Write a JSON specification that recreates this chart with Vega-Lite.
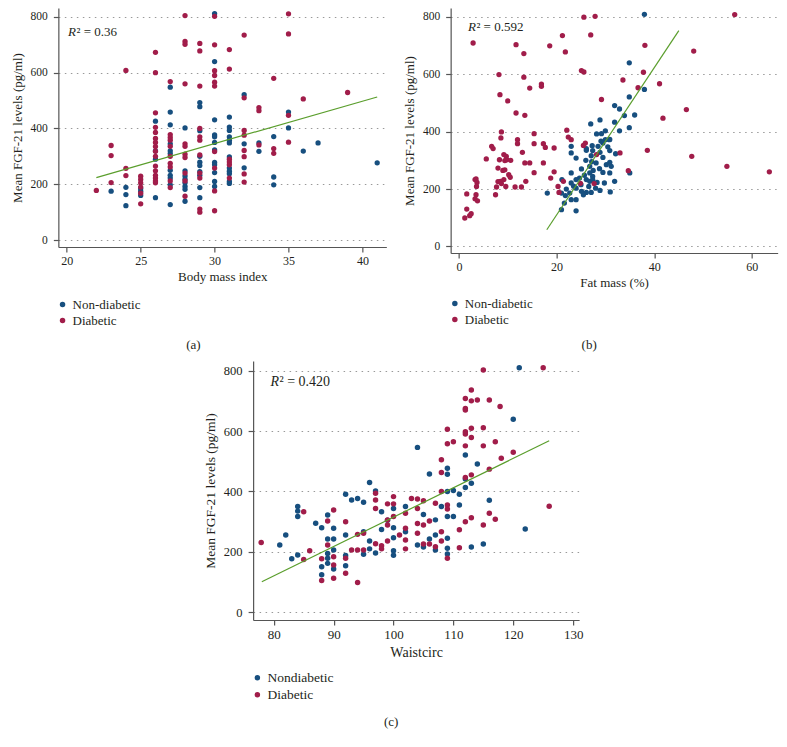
{
  "$schema": "https://vega.github.io/schema/vega-lite/v6.json",
  "background": "white",
  "padding": {"left": 11, "top": 8, "right": 4, "bottom": 5},
  "config": {
    "view": {"stroke": null},
    "font": "Liberation Serif",
    "axis": {"domainColor": "#555", "domainWidth": 1.2, "tickColor": "#555", "tickWidth": 1.2, "tickSize": 5, "labelFont": "Liberation Serif", "titleFont": "Liberation Serif", "labelColor": "#231f20", "titleColor": "#231f20", "titleFontWeight": "normal", "labelFontSize": 12, "titleFontSize": 13, "labelPadding": 3, "titlePadding": 4, "grid": false, "labelFlush": false, "labelOverlap": false},
    "axisY": {"grid": true, "gridColor": "#999", "gridDash": [1.5, 4.5], "gridWidth": 1, "labelPadding": 6, "titlePadding": 6, "labelFontSize": 11.5},
    "legend": {"orient": "none", "title": null, "symbolType": "circle", "symbolSize": 30, "labelFont": "Liberation Serif", "labelFontSize": 13, "labelColor": "#231f20", "rowPadding": 2, "labelOffset": 3.5, "padding": 0},
    "title": {"font": "Liberation Serif", "fontSize": 13, "fontWeight": "normal", "color": "#231f20", "orient": "bottom", "anchor": "middle", "frame": "group"}
  },
  "datasets": {
    "a": [
      {"bmi": 23, "fgf21": 175, "group": "Non-diabetic"},
      {"bmi": 24, "fgf21": 189, "group": "Non-diabetic"}, {"bmi": 24, "fgf21": 163, "group": "Non-diabetic"}, {"bmi": 24, "fgf21": 123, "group": "Non-diabetic"},
      {"bmi": 25, "fgf21": 185, "group": "Non-diabetic"}, {"bmi": 25, "fgf21": 175, "group": "Non-diabetic"}, {"bmi": 25, "fgf21": 160, "group": "Non-diabetic"},
      {"bmi": 26, "fgf21": 426, "group": "Non-diabetic"}, {"bmi": 26, "fgf21": 320, "group": "Non-diabetic"}, {"bmi": 26, "fgf21": 290, "group": "Non-diabetic"}, {"bmi": 26, "fgf21": 152, "group": "Non-diabetic"},
      {"bmi": 27, "fgf21": 548, "group": "Non-diabetic"}, {"bmi": 27, "fgf21": 459, "group": "Non-diabetic"}, {"bmi": 27, "fgf21": 413, "group": "Non-diabetic"}, {"bmi": 27, "fgf21": 345, "group": "Non-diabetic"}, {"bmi": 27, "fgf21": 320, "group": "Non-diabetic"}, {"bmi": 27, "fgf21": 310, "group": "Non-diabetic"}, {"bmi": 27, "fgf21": 250, "group": "Non-diabetic"}, {"bmi": 27, "fgf21": 232, "group": "Non-diabetic"}, {"bmi": 27, "fgf21": 222, "group": "Non-diabetic"}, {"bmi": 27, "fgf21": 198, "group": "Non-diabetic"}, {"bmi": 27, "fgf21": 127, "group": "Non-diabetic"},
      {"bmi": 28, "fgf21": 402, "group": "Non-diabetic"}, {"bmi": 28, "fgf21": 248, "group": "Non-diabetic"}, {"bmi": 28, "fgf21": 230, "group": "Non-diabetic"}, {"bmi": 28, "fgf21": 218, "group": "Non-diabetic"}, {"bmi": 28, "fgf21": 205, "group": "Non-diabetic"}, {"bmi": 28, "fgf21": 192, "group": "Non-diabetic"}, {"bmi": 28, "fgf21": 182, "group": "Non-diabetic"}, {"bmi": 28, "fgf21": 139, "group": "Non-diabetic"},
      {"bmi": 29, "fgf21": 493, "group": "Non-diabetic"}, {"bmi": 29, "fgf21": 478, "group": "Non-diabetic"}, {"bmi": 29, "fgf21": 392, "group": "Non-diabetic"}, {"bmi": 29, "fgf21": 300, "group": "Non-diabetic"}, {"bmi": 29, "fgf21": 279, "group": "Non-diabetic"}, {"bmi": 29, "fgf21": 267, "group": "Non-diabetic"}, {"bmi": 29, "fgf21": 245, "group": "Non-diabetic"}, {"bmi": 29, "fgf21": 232, "group": "Non-diabetic"}, {"bmi": 29, "fgf21": 188, "group": "Non-diabetic"}, {"bmi": 29, "fgf21": 152, "group": "Non-diabetic"},
      {"bmi": 30, "fgf21": 812, "group": "Non-diabetic"}, {"bmi": 30, "fgf21": 640, "group": "Non-diabetic"}, {"bmi": 30, "fgf21": 431, "group": "Non-diabetic"}, {"bmi": 30, "fgf21": 377, "group": "Non-diabetic"}, {"bmi": 30, "fgf21": 370, "group": "Non-diabetic"}, {"bmi": 30, "fgf21": 350, "group": "Non-diabetic"}, {"bmi": 30, "fgf21": 323, "group": "Non-diabetic"}, {"bmi": 30, "fgf21": 278, "group": "Non-diabetic"}, {"bmi": 30, "fgf21": 270, "group": "Non-diabetic"}, {"bmi": 30, "fgf21": 242, "group": "Non-diabetic"}, {"bmi": 30, "fgf21": 210, "group": "Non-diabetic"}, {"bmi": 30, "fgf21": 192, "group": "Non-diabetic"},
      {"bmi": 31, "fgf21": 441, "group": "Non-diabetic"}, {"bmi": 31, "fgf21": 405, "group": "Non-diabetic"}, {"bmi": 31, "fgf21": 393, "group": "Non-diabetic"}, {"bmi": 31, "fgf21": 370, "group": "Non-diabetic"}, {"bmi": 31, "fgf21": 358, "group": "Non-diabetic"}, {"bmi": 31, "fgf21": 348, "group": "Non-diabetic"}, {"bmi": 31, "fgf21": 298, "group": "Non-diabetic"}, {"bmi": 31, "fgf21": 258, "group": "Non-diabetic"}, {"bmi": 31, "fgf21": 247, "group": "Non-diabetic"}, {"bmi": 31, "fgf21": 238, "group": "Non-diabetic"}, {"bmi": 31, "fgf21": 210, "group": "Non-diabetic"}, {"bmi": 31, "fgf21": 203, "group": "Non-diabetic"},
      {"bmi": 32, "fgf21": 521, "group": "Non-diabetic"}, {"bmi": 32, "fgf21": 345, "group": "Non-diabetic"}, {"bmi": 32, "fgf21": 259, "group": "Non-diabetic"},
      {"bmi": 33, "fgf21": 348, "group": "Non-diabetic"}, {"bmi": 33, "fgf21": 318, "group": "Non-diabetic"},
      {"bmi": 34, "fgf21": 371, "group": "Non-diabetic"}, {"bmi": 34, "fgf21": 226, "group": "Non-diabetic"}, {"bmi": 34, "fgf21": 198, "group": "Non-diabetic"},
      {"bmi": 35, "fgf21": 459, "group": "Non-diabetic"}, {"bmi": 35, "fgf21": 402, "group": "Non-diabetic"},
      {"bmi": 36, "fgf21": 319, "group": "Non-diabetic"},
      {"bmi": 37, "fgf21": 348, "group": "Non-diabetic"},
      {"bmi": 41, "fgf21": 277, "group": "Non-diabetic"},
      {"bmi": 22, "fgf21": 178, "group": "Diabetic"},
      {"bmi": 23, "fgf21": 339, "group": "Diabetic"}, {"bmi": 23, "fgf21": 303, "group": "Diabetic"}, {"bmi": 23, "fgf21": 206, "group": "Diabetic"},
      {"bmi": 24, "fgf21": 608, "group": "Diabetic"}, {"bmi": 24, "fgf21": 257, "group": "Diabetic"}, {"bmi": 24, "fgf21": 231, "group": "Diabetic"},
      {"bmi": 25, "fgf21": 229, "group": "Diabetic"}, {"bmi": 25, "fgf21": 217, "group": "Diabetic"}, {"bmi": 25, "fgf21": 205, "group": "Diabetic"}, {"bmi": 25, "fgf21": 190, "group": "Diabetic"}, {"bmi": 25, "fgf21": 168, "group": "Diabetic"}, {"bmi": 25, "fgf21": 130, "group": "Diabetic"},
      {"bmi": 26, "fgf21": 673, "group": "Diabetic"}, {"bmi": 26, "fgf21": 600, "group": "Diabetic"}, {"bmi": 26, "fgf21": 456, "group": "Diabetic"}, {"bmi": 26, "fgf21": 404, "group": "Diabetic"}, {"bmi": 26, "fgf21": 386, "group": "Diabetic"}, {"bmi": 26, "fgf21": 364, "group": "Diabetic"}, {"bmi": 26, "fgf21": 350, "group": "Diabetic"}, {"bmi": 26, "fgf21": 335, "group": "Diabetic"}, {"bmi": 26, "fgf21": 318, "group": "Diabetic"}, {"bmi": 26, "fgf21": 300, "group": "Diabetic"}, {"bmi": 26, "fgf21": 265, "group": "Diabetic"}, {"bmi": 26, "fgf21": 248, "group": "Diabetic"}, {"bmi": 26, "fgf21": 232, "group": "Diabetic"}, {"bmi": 26, "fgf21": 222, "group": "Diabetic"}, {"bmi": 26, "fgf21": 212, "group": "Diabetic"}, {"bmi": 26, "fgf21": 205, "group": "Diabetic"},
      {"bmi": 27, "fgf21": 568, "group": "Diabetic"}, {"bmi": 27, "fgf21": 378, "group": "Diabetic"}, {"bmi": 27, "fgf21": 368, "group": "Diabetic"}, {"bmi": 27, "fgf21": 358, "group": "Diabetic"}, {"bmi": 27, "fgf21": 336, "group": "Diabetic"}, {"bmi": 27, "fgf21": 300, "group": "Diabetic"}, {"bmi": 27, "fgf21": 275, "group": "Diabetic"}, {"bmi": 27, "fgf21": 262, "group": "Diabetic"}, {"bmi": 27, "fgf21": 212, "group": "Diabetic"}, {"bmi": 27, "fgf21": 188, "group": "Diabetic"},
      {"bmi": 28, "fgf21": 805, "group": "Diabetic"}, {"bmi": 28, "fgf21": 712, "group": "Diabetic"}, {"bmi": 28, "fgf21": 702, "group": "Diabetic"}, {"bmi": 28, "fgf21": 560, "group": "Diabetic"}, {"bmi": 28, "fgf21": 345, "group": "Diabetic"}, {"bmi": 28, "fgf21": 336, "group": "Diabetic"}, {"bmi": 28, "fgf21": 308, "group": "Diabetic"}, {"bmi": 28, "fgf21": 296, "group": "Diabetic"}, {"bmi": 28, "fgf21": 240, "group": "Diabetic"}, {"bmi": 28, "fgf21": 212, "group": "Diabetic"}, {"bmi": 28, "fgf21": 157, "group": "Diabetic"},
      {"bmi": 29, "fgf21": 705, "group": "Diabetic"}, {"bmi": 29, "fgf21": 678, "group": "Diabetic"}, {"bmi": 29, "fgf21": 552, "group": "Diabetic"}, {"bmi": 29, "fgf21": 400, "group": "Diabetic"}, {"bmi": 29, "fgf21": 370, "group": "Diabetic"}, {"bmi": 29, "fgf21": 358, "group": "Diabetic"}, {"bmi": 29, "fgf21": 305, "group": "Diabetic"}, {"bmi": 29, "fgf21": 240, "group": "Diabetic"}, {"bmi": 29, "fgf21": 222, "group": "Diabetic"}, {"bmi": 29, "fgf21": 111, "group": "Diabetic"}, {"bmi": 29, "fgf21": 100, "group": "Diabetic"},
      {"bmi": 30, "fgf21": 802, "group": "Diabetic"}, {"bmi": 30, "fgf21": 700, "group": "Diabetic"}, {"bmi": 30, "fgf21": 607, "group": "Diabetic"}, {"bmi": 30, "fgf21": 590, "group": "Diabetic"}, {"bmi": 30, "fgf21": 566, "group": "Diabetic"}, {"bmi": 30, "fgf21": 552, "group": "Diabetic"}, {"bmi": 30, "fgf21": 317, "group": "Diabetic"}, {"bmi": 30, "fgf21": 258, "group": "Diabetic"}, {"bmi": 30, "fgf21": 176, "group": "Diabetic"}, {"bmi": 30, "fgf21": 105, "group": "Diabetic"},
      {"bmi": 31, "fgf21": 683, "group": "Diabetic"}, {"bmi": 31, "fgf21": 613, "group": "Diabetic"}, {"bmi": 31, "fgf21": 290, "group": "Diabetic"}, {"bmi": 31, "fgf21": 280, "group": "Diabetic"}, {"bmi": 31, "fgf21": 270, "group": "Diabetic"}, {"bmi": 31, "fgf21": 222, "group": "Diabetic"},
      {"bmi": 32, "fgf21": 735, "group": "Diabetic"}, {"bmi": 32, "fgf21": 510, "group": "Diabetic"}, {"bmi": 32, "fgf21": 393, "group": "Diabetic"}, {"bmi": 32, "fgf21": 376, "group": "Diabetic"}, {"bmi": 32, "fgf21": 321, "group": "Diabetic"}, {"bmi": 32, "fgf21": 299, "group": "Diabetic"}, {"bmi": 32, "fgf21": 237, "group": "Diabetic"}, {"bmi": 32, "fgf21": 208, "group": "Diabetic"},
      {"bmi": 33, "fgf21": 475, "group": "Diabetic"}, {"bmi": 33, "fgf21": 464, "group": "Diabetic"}, {"bmi": 33, "fgf21": 341, "group": "Diabetic"},
      {"bmi": 34, "fgf21": 580, "group": "Diabetic"}, {"bmi": 34, "fgf21": 328, "group": "Diabetic"}, {"bmi": 34, "fgf21": 311, "group": "Diabetic"},
      {"bmi": 35, "fgf21": 811, "group": "Diabetic"}, {"bmi": 35, "fgf21": 739, "group": "Diabetic"}, {"bmi": 35, "fgf21": 447, "group": "Diabetic"}, {"bmi": 35, "fgf21": 351, "group": "Diabetic"},
      {"bmi": 36, "fgf21": 506, "group": "Diabetic"},
      {"bmi": 39, "fgf21": 529, "group": "Diabetic"}
    ],
    "b": [
      {"fat": 38.0, "fgf21": 809, "group": "Non-diabetic"}, {"fat": 34.9, "fgf21": 640, "group": "Non-diabetic"}, {"fat": 34.9, "fgf21": 521, "group": "Non-diabetic"}, {"fat": 38.0, "fgf21": 547, "group": "Non-diabetic"}, {"fat": 36.0, "fgf21": 458, "group": "Non-diabetic"}, {"fat": 34.9, "fgf21": 414, "group": "Non-diabetic"}, {"fat": 35.0, "fgf21": 256, "group": "Non-diabetic"}, {"fat": 31.9, "fgf21": 491, "group": "Non-diabetic"}, {"fat": 32.9, "fgf21": 479, "group": "Non-diabetic"}, {"fat": 33.9, "fgf21": 456, "group": "Non-diabetic"}, {"fat": 31.9, "fgf21": 433, "group": "Non-diabetic"}, {"fat": 32.9, "fgf21": 403, "group": "Non-diabetic"}, {"fat": 28.9, "fgf21": 441, "group": "Non-diabetic"}, {"fat": 27.0, "fgf21": 427, "group": "Non-diabetic"}, {"fat": 29.2, "fgf21": 393, "group": "Non-diabetic"}, {"fat": 28.2, "fgf21": 392, "group": "Non-diabetic"}, {"fat": 30.0, "fgf21": 403, "group": "Non-diabetic"}, {"fat": 30.8, "fgf21": 372, "group": "Non-diabetic"}, {"fat": 30.0, "fgf21": 372, "group": "Non-diabetic"}, {"fat": 29.5, "fgf21": 360, "group": "Non-diabetic"}, {"fat": 27.3, "fgf21": 351, "group": "Non-diabetic"}, {"fat": 28.5, "fgf21": 349, "group": "Non-diabetic"}, {"fat": 30.5, "fgf21": 347, "group": "Non-diabetic"}, {"fat": 26.1, "fgf21": 341, "group": "Non-diabetic"}, {"fat": 27.4, "fgf21": 334, "group": "Non-diabetic"}, {"fat": 23.0, "fgf21": 349, "group": "Non-diabetic"}, {"fat": 23.0, "fgf21": 326, "group": "Non-diabetic"}, {"fat": 24.0, "fgf21": 308, "group": "Non-diabetic"}, {"fat": 25.1, "fgf21": 270, "group": "Non-diabetic"}, {"fat": 27.1, "fgf21": 316, "group": "Non-diabetic"}, {"fat": 28.9, "fgf21": 328, "group": "Non-diabetic"}, {"fat": 30.9, "fgf21": 334, "group": "Non-diabetic"}, {"fat": 32.1, "fgf21": 323, "group": "Non-diabetic"}, {"fat": 28.1, "fgf21": 291, "group": "Non-diabetic"}, {"fat": 30.2, "fgf21": 285, "group": "Non-diabetic"}, {"fat": 30.9, "fgf21": 293, "group": "Non-diabetic"}, {"fat": 26.8, "fgf21": 279, "group": "Non-diabetic"}, {"fat": 28.8, "fgf21": 271, "group": "Non-diabetic"}, {"fat": 31.2, "fgf21": 279, "group": "Non-diabetic"}, {"fat": 29.5, "fgf21": 258, "group": "Non-diabetic"}, {"fat": 30.9, "fgf21": 256, "group": "Non-diabetic"}, {"fat": 26.8, "fgf21": 256, "group": "Non-diabetic"}, {"fat": 27.4, "fgf21": 244, "group": "Non-diabetic"}, {"fat": 25.7, "fgf21": 248, "group": "Non-diabetic"}, {"fat": 26.1, "fgf21": 233, "group": "Non-diabetic"}, {"fat": 24.7, "fgf21": 238, "group": "Non-diabetic"}, {"fat": 23.0, "fgf21": 221, "group": "Non-diabetic"}, {"fat": 24.0, "fgf21": 233, "group": "Non-diabetic"}, {"fat": 26.8, "fgf21": 227, "group": "Non-diabetic"}, {"fat": 27.4, "fgf21": 233, "group": "Non-diabetic"}, {"fat": 28.3, "fgf21": 223, "group": "Non-diabetic"}, {"fat": 29.8, "fgf21": 221, "group": "Non-diabetic"}, {"fat": 31.9, "fgf21": 227, "group": "Non-diabetic"}, {"fat": 26.6, "fgf21": 209, "group": "Non-diabetic"}, {"fat": 28.0, "fgf21": 203, "group": "Non-diabetic"}, {"fat": 28.9, "fgf21": 195, "group": "Non-diabetic"}, {"fat": 31.0, "fgf21": 190, "group": "Non-diabetic"}, {"fat": 24.0, "fgf21": 203, "group": "Non-diabetic"}, {"fat": 25.1, "fgf21": 192, "group": "Non-diabetic"}, {"fat": 26.1, "fgf21": 188, "group": "Non-diabetic"}, {"fat": 27.1, "fgf21": 188, "group": "Non-diabetic"}, {"fat": 22.0, "fgf21": 200, "group": "Non-diabetic"}, {"fat": 22.7, "fgf21": 186, "group": "Non-diabetic"}, {"fat": 21.0, "fgf21": 186, "group": "Non-diabetic"}, {"fat": 21.8, "fgf21": 177, "group": "Non-diabetic"}, {"fat": 23.0, "fgf21": 163, "group": "Non-diabetic"}, {"fat": 24.0, "fgf21": 163, "group": "Non-diabetic"}, {"fat": 21.6, "fgf21": 151, "group": "Non-diabetic"}, {"fat": 21.0, "fgf21": 128, "group": "Non-diabetic"}, {"fat": 24.0, "fgf21": 124, "group": "Non-diabetic"}, {"fat": 18.1, "fgf21": 186, "group": "Non-diabetic"}, {"fat": 21.1, "fgf21": 233, "group": "Non-diabetic"}, {"fat": 23.0, "fgf21": 256, "group": "Non-diabetic"}, {"fat": 26.1, "fgf21": 335, "group": "Non-diabetic"}, {"fat": 30.9, "fgf21": 373, "group": "Non-diabetic"}, {"fat": 29.1, "fgf21": 367, "group": "Non-diabetic"}, {"fat": 27.2, "fgf21": 295, "group": "Non-diabetic"}, {"fat": 26.0, "fgf21": 300, "group": "Non-diabetic"}, {"fat": 29.5, "fgf21": 310, "group": "Non-diabetic"}, {"fat": 27.5, "fgf21": 265, "group": "Non-diabetic"}, {"fat": 25.0, "fgf21": 215, "group": "Non-diabetic"}, {"fat": 23.5, "fgf21": 210, "group": "Non-diabetic"}, {"fat": 25.5, "fgf21": 180, "group": "Non-diabetic"},
      {"fat": 2.9, "fgf21": 709, "group": "Diabetic"}, {"fat": 11.7, "fgf21": 703, "group": "Diabetic"}, {"fat": 13.3, "fgf21": 672, "group": "Diabetic"}, {"fat": 18.6, "fgf21": 699, "group": "Diabetic"}, {"fat": 21.2, "fgf21": 735, "group": "Diabetic"}, {"fat": 21.8, "fgf21": 678, "group": "Diabetic"}, {"fat": 25.6, "fgf21": 799, "group": "Diabetic"}, {"fat": 27.9, "fgf21": 802, "group": "Diabetic"}, {"fat": 27.0, "fgf21": 737, "group": "Diabetic"}, {"fat": 25.1, "fgf21": 613, "group": "Diabetic"}, {"fat": 25.6, "fgf21": 608, "group": "Diabetic"}, {"fat": 8.2, "fgf21": 599, "group": "Diabetic"}, {"fat": 13.3, "fgf21": 590, "group": "Diabetic"}, {"fat": 14.5, "fgf21": 552, "group": "Diabetic"}, {"fat": 16.9, "fgf21": 566, "group": "Diabetic"}, {"fat": 16.9, "fgf21": 558, "group": "Diabetic"}, {"fat": 8.4, "fgf21": 529, "group": "Diabetic"}, {"fat": 10.0, "fgf21": 507, "group": "Diabetic"}, {"fat": 11.7, "fgf21": 465, "group": "Diabetic"}, {"fat": 13.5, "fgf21": 457, "group": "Diabetic"}, {"fat": 29.2, "fgf21": 512, "group": "Diabetic"}, {"fat": 33.6, "fgf21": 580, "group": "Diabetic"}, {"fat": 38.1, "fgf21": 701, "group": "Diabetic"}, {"fat": 37.8, "fgf21": 607, "group": "Diabetic"}, {"fat": 36.7, "fgf21": 553, "group": "Diabetic"}, {"fat": 41.1, "fgf21": 567, "group": "Diabetic"}, {"fat": 41.8, "fgf21": 447, "group": "Diabetic"}, {"fat": 46.6, "fgf21": 477, "group": "Diabetic"}, {"fat": 48.1, "fgf21": 681, "group": "Diabetic"}, {"fat": 56.5, "fgf21": 808, "group": "Diabetic"}, {"fat": 47.7, "fgf21": 314, "group": "Diabetic"}, {"fat": 54.9, "fgf21": 279, "group": "Diabetic"}, {"fat": 63.6, "fgf21": 260, "group": "Diabetic"}, {"fat": 38.6, "fgf21": 335, "group": "Diabetic"}, {"fat": 33.0, "fgf21": 326, "group": "Diabetic"}, {"fat": 34.7, "fgf21": 264, "group": "Diabetic"}, {"fat": 28.2, "fgf21": 320, "group": "Diabetic"}, {"fat": 27.7, "fgf21": 219, "group": "Diabetic"}, {"fat": 24.9, "fgf21": 220, "group": "Diabetic"}, {"fat": 22.1, "fgf21": 405, "group": "Diabetic"}, {"fat": 22.4, "fgf21": 381, "group": "Diabetic"}, {"fat": 23.0, "fgf21": 372, "group": "Diabetic"}, {"fat": 25.9, "fgf21": 360, "group": "Diabetic"}, {"fat": 25.5, "fgf21": 352, "group": "Diabetic"}, {"fat": 17.3, "fgf21": 358, "group": "Diabetic"}, {"fat": 17.7, "fgf21": 345, "group": "Diabetic"}, {"fat": 19.5, "fgf21": 343, "group": "Diabetic"}, {"fat": 15.4, "fgf21": 393, "group": "Diabetic"}, {"fat": 15.4, "fgf21": 358, "group": "Diabetic"}, {"fat": 17.3, "fgf21": 291, "group": "Diabetic"}, {"fat": 19.5, "fgf21": 260, "group": "Diabetic"}, {"fat": 18.8, "fgf21": 238, "group": "Diabetic"}, {"fat": 15.4, "fgf21": 257, "group": "Diabetic"}, {"fat": 20.3, "fgf21": 209, "group": "Diabetic"}, {"fat": 20.5, "fgf21": 188, "group": "Diabetic"}, {"fat": 21.4, "fgf21": 227, "group": "Diabetic"}, {"fat": 8.7, "fgf21": 399, "group": "Diabetic"}, {"fat": 8.6, "fgf21": 378, "group": "Diabetic"}, {"fat": 6.7, "fgf21": 349, "group": "Diabetic"}, {"fat": 7.0, "fgf21": 341, "group": "Diabetic"}, {"fat": 5.6, "fgf21": 305, "group": "Diabetic"}, {"fat": 3.5, "fgf21": 235, "group": "Diabetic"}, {"fat": 3.3, "fgf21": 233, "group": "Diabetic"}, {"fat": 3.7, "fgf21": 223, "group": "Diabetic"}, {"fat": 3.6, "fgf21": 209, "group": "Diabetic"}, {"fat": 3.5, "fgf21": 180, "group": "Diabetic"}, {"fat": 3.3, "fgf21": 166, "group": "Diabetic"}, {"fat": 3.8, "fgf21": 159, "group": "Diabetic"}, {"fat": 1.6, "fgf21": 183, "group": "Diabetic"}, {"fat": 1.6, "fgf21": 130, "group": "Diabetic"}, {"fat": 1.2, "fgf21": 99, "group": "Diabetic"}, {"fat": 2.2, "fgf21": 107, "group": "Diabetic"}, {"fat": 2.5, "fgf21": 114, "group": "Diabetic"}, {"fat": 7.5, "fgf21": 180, "group": "Diabetic"}, {"fat": 8.0, "fgf21": 226, "group": "Diabetic"}, {"fat": 8.5, "fgf21": 227, "group": "Diabetic"}, {"fat": 7.7, "fgf21": 207, "group": "Diabetic"}, {"fat": 8.7, "fgf21": 219, "group": "Diabetic"}, {"fat": 9.2, "fgf21": 233, "group": "Diabetic"}, {"fat": 8.3, "fgf21": 302, "group": "Diabetic"}, {"fat": 9.4, "fgf21": 299, "group": "Diabetic"}, {"fat": 9.8, "fgf21": 302, "group": "Diabetic"}, {"fat": 9.2, "fgf21": 320, "group": "Diabetic"}, {"fat": 9.7, "fgf21": 314, "group": "Diabetic"}, {"fat": 8.0, "fgf21": 273, "group": "Diabetic"}, {"fat": 9.0, "fgf21": 265, "group": "Diabetic"}, {"fat": 10.2, "fgf21": 250, "group": "Diabetic"}, {"fat": 9.4, "fgf21": 267, "group": "Diabetic"}, {"fat": 10.6, "fgf21": 300, "group": "Diabetic"}, {"fat": 10.5, "fgf21": 241, "group": "Diabetic"}, {"fat": 9.6, "fgf21": 209, "group": "Diabetic"}, {"fat": 12.0, "fgf21": 372, "group": "Diabetic"}, {"fat": 12.0, "fgf21": 358, "group": "Diabetic"}, {"fat": 13.0, "fgf21": 328, "group": "Diabetic"}, {"fat": 13.5, "fgf21": 291, "group": "Diabetic"}, {"fat": 14.5, "fgf21": 291, "group": "Diabetic"}, {"fat": 13.7, "fgf21": 227, "group": "Diabetic"}, {"fat": 11.5, "fgf21": 207, "group": "Diabetic"}, {"fat": 12.8, "fgf21": 207, "group": "Diabetic"}
    ],
    "c": [
      {"waist": 81, "fgf21": 223, "group": "Nondiabetic"}, {"waist": 82, "fgf21": 256, "group": "Nondiabetic"}, {"waist": 83, "fgf21": 177, "group": "Nondiabetic"}, {"waist": 84, "fgf21": 350, "group": "Nondiabetic"}, {"waist": 84, "fgf21": 335, "group": "Nondiabetic"}, {"waist": 84, "fgf21": 317, "group": "Nondiabetic"}, {"waist": 84, "fgf21": 190, "group": "Nondiabetic"}, {"waist": 87, "fgf21": 295, "group": "Nondiabetic"}, {"waist": 88, "fgf21": 280, "group": "Nondiabetic"}, {"waist": 88, "fgf21": 151, "group": "Nondiabetic"}, {"waist": 88, "fgf21": 124, "group": "Nondiabetic"}, {"waist": 89, "fgf21": 322, "group": "Nondiabetic"}, {"waist": 89, "fgf21": 243, "group": "Nondiabetic"}, {"waist": 89, "fgf21": 195, "group": "Nondiabetic"}, {"waist": 89, "fgf21": 179, "group": "Nondiabetic"}, {"waist": 89, "fgf21": 162, "group": "Nondiabetic"}, {"waist": 90, "fgf21": 278, "group": "Nondiabetic"}, {"waist": 90, "fgf21": 243, "group": "Nondiabetic"}, {"waist": 90, "fgf21": 206, "group": "Nondiabetic"}, {"waist": 90, "fgf21": 143, "group": "Nondiabetic"}, {"waist": 92, "fgf21": 391, "group": "Nondiabetic"}, {"waist": 92, "fgf21": 256, "group": "Nondiabetic"}, {"waist": 92, "fgf21": 188, "group": "Nondiabetic"}, {"waist": 92, "fgf21": 154, "group": "Nondiabetic"}, {"waist": 93, "fgf21": 372, "group": "Nondiabetic"}, {"waist": 94, "fgf21": 377, "group": "Nondiabetic"}, {"waist": 95, "fgf21": 364, "group": "Nondiabetic"}, {"waist": 95, "fgf21": 192, "group": "Nondiabetic"}, {"waist": 95, "fgf21": 267, "group": "Nondiabetic"}, {"waist": 96, "fgf21": 430, "group": "Nondiabetic"}, {"waist": 96, "fgf21": 236, "group": "Nondiabetic"}, {"waist": 96, "fgf21": 210, "group": "Nondiabetic"}, {"waist": 97, "fgf21": 402, "group": "Nondiabetic"}, {"waist": 97, "fgf21": 196, "group": "Nondiabetic"}, {"waist": 98, "fgf21": 333, "group": "Nondiabetic"}, {"waist": 98, "fgf21": 274, "group": "Nondiabetic"}, {"waist": 99, "fgf21": 305, "group": "Nondiabetic"}, {"waist": 100, "fgf21": 344, "group": "Nondiabetic"}, {"waist": 100, "fgf21": 280, "group": "Nondiabetic"}, {"waist": 100, "fgf21": 247, "group": "Nondiabetic"}, {"waist": 100, "fgf21": 204, "group": "Nondiabetic"}, {"waist": 100, "fgf21": 189, "group": "Nondiabetic"}, {"waist": 102, "fgf21": 350, "group": "Nondiabetic"}, {"waist": 102, "fgf21": 267, "group": "Nondiabetic"}, {"waist": 104, "fgf21": 546, "group": "Nondiabetic"}, {"waist": 104, "fgf21": 223, "group": "Nondiabetic"}, {"waist": 105, "fgf21": 324, "group": "Nondiabetic"}, {"waist": 105, "fgf21": 216, "group": "Nondiabetic"}, {"waist": 106, "fgf21": 458, "group": "Nondiabetic"}, {"waist": 106, "fgf21": 243, "group": "Nondiabetic"}, {"waist": 107, "fgf21": 306, "group": "Nondiabetic"}, {"waist": 107, "fgf21": 256, "group": "Nondiabetic"}, {"waist": 107, "fgf21": 206, "group": "Nondiabetic"}, {"waist": 108, "fgf21": 350, "group": "Nondiabetic"}, {"waist": 109, "fgf21": 477, "group": "Nondiabetic"}, {"waist": 109, "fgf21": 457, "group": "Nondiabetic"}, {"waist": 109, "fgf21": 400, "group": "Nondiabetic"}, {"waist": 109, "fgf21": 317, "group": "Nondiabetic"}, {"waist": 109, "fgf21": 245, "group": "Nondiabetic"}, {"waist": 109, "fgf21": 212, "group": "Nondiabetic"}, {"waist": 109, "fgf21": 193, "group": "Nondiabetic"}, {"waist": 110, "fgf21": 403, "group": "Nondiabetic"}, {"waist": 110, "fgf21": 317, "group": "Nondiabetic"}, {"waist": 111, "fgf21": 391, "group": "Nondiabetic"}, {"waist": 111, "fgf21": 355, "group": "Nondiabetic"}, {"waist": 112, "fgf21": 521, "group": "Nondiabetic"}, {"waist": 112, "fgf21": 441, "group": "Nondiabetic"}, {"waist": 112, "fgf21": 413, "group": "Nondiabetic"}, {"waist": 113, "fgf21": 427, "group": "Nondiabetic"}, {"waist": 113, "fgf21": 216, "group": "Nondiabetic"}, {"waist": 114, "fgf21": 491, "group": "Nondiabetic"}, {"waist": 115, "fgf21": 226, "group": "Nondiabetic"}, {"waist": 116, "fgf21": 371, "group": "Nondiabetic"}, {"waist": 120, "fgf21": 639, "group": "Nondiabetic"}, {"waist": 121, "fgf21": 810, "group": "Nondiabetic"}, {"waist": 122, "fgf21": 276, "group": "Nondiabetic"},
      {"waist": 77.9, "fgf21": 231, "group": "Diabetic"}, {"waist": 85, "fgf21": 333, "group": "Diabetic"}, {"waist": 85, "fgf21": 175, "group": "Diabetic"}, {"waist": 86, "fgf21": 204, "group": "Diabetic"}, {"waist": 88, "fgf21": 177, "group": "Diabetic"}, {"waist": 88, "fgf21": 105, "group": "Diabetic"}, {"waist": 89, "fgf21": 302, "group": "Diabetic"}, {"waist": 89, "fgf21": 223, "group": "Diabetic"}, {"waist": 90, "fgf21": 339, "group": "Diabetic"}, {"waist": 90, "fgf21": 184, "group": "Diabetic"}, {"waist": 90, "fgf21": 157, "group": "Diabetic"}, {"waist": 90, "fgf21": 113, "group": "Diabetic"}, {"waist": 92, "fgf21": 300, "group": "Diabetic"}, {"waist": 92, "fgf21": 179, "group": "Diabetic"}, {"waist": 92, "fgf21": 129, "group": "Diabetic"}, {"waist": 94, "fgf21": 258, "group": "Diabetic"}, {"waist": 94, "fgf21": 99, "group": "Diabetic"}, {"waist": 93, "fgf21": 206, "group": "Diabetic"}, {"waist": 94, "fgf21": 206, "group": "Diabetic"}, {"waist": 95, "fgf21": 206, "group": "Diabetic"}, {"waist": 95, "fgf21": 262, "group": "Diabetic"}, {"waist": 97, "fgf21": 394, "group": "Diabetic"}, {"waist": 97, "fgf21": 372, "group": "Diabetic"}, {"waist": 97, "fgf21": 344, "group": "Diabetic"}, {"waist": 97, "fgf21": 227, "group": "Diabetic"}, {"waist": 98, "fgf21": 210, "group": "Diabetic"}, {"waist": 98, "fgf21": 220, "group": "Diabetic"}, {"waist": 99, "fgf21": 359, "group": "Diabetic"}, {"waist": 99, "fgf21": 306, "group": "Diabetic"}, {"waist": 99, "fgf21": 289, "group": "Diabetic"}, {"waist": 99, "fgf21": 236, "group": "Diabetic"}, {"waist": 100, "fgf21": 383, "group": "Diabetic"}, {"waist": 100, "fgf21": 359, "group": "Diabetic"}, {"waist": 100, "fgf21": 317, "group": "Diabetic"}, {"waist": 101, "fgf21": 256, "group": "Diabetic"}, {"waist": 102, "fgf21": 328, "group": "Diabetic"}, {"waist": 102, "fgf21": 278, "group": "Diabetic"}, {"waist": 102, "fgf21": 210, "group": "Diabetic"}, {"waist": 102, "fgf21": 239, "group": "Diabetic"}, {"waist": 103, "fgf21": 377, "group": "Diabetic"}, {"waist": 104, "fgf21": 375, "group": "Diabetic"}, {"waist": 104, "fgf21": 344, "group": "Diabetic"}, {"waist": 104, "fgf21": 294, "group": "Diabetic"}, {"waist": 104, "fgf21": 262, "group": "Diabetic"}, {"waist": 105, "fgf21": 289, "group": "Diabetic"}, {"waist": 105, "fgf21": 226, "group": "Diabetic"}, {"waist": 105, "fgf21": 369, "group": "Diabetic"}, {"waist": 106, "fgf21": 302, "group": "Diabetic"}, {"waist": 106, "fgf21": 226, "group": "Diabetic"}, {"waist": 107, "fgf21": 361, "group": "Diabetic"}, {"waist": 107, "fgf21": 217, "group": "Diabetic"}, {"waist": 108, "fgf21": 505, "group": "Diabetic"}, {"waist": 108, "fgf21": 463, "group": "Diabetic"}, {"waist": 108, "fgf21": 400, "group": "Diabetic"}, {"waist": 108, "fgf21": 267, "group": "Diabetic"}, {"waist": 108, "fgf21": 236, "group": "Diabetic"}, {"waist": 109, "fgf21": 606, "group": "Diabetic"}, {"waist": 109, "fgf21": 558, "group": "Diabetic"}, {"waist": 109, "fgf21": 355, "group": "Diabetic"}, {"waist": 109, "fgf21": 342, "group": "Diabetic"}, {"waist": 109, "fgf21": 179, "group": "Diabetic"}, {"waist": 110, "fgf21": 565, "group": "Diabetic"}, {"waist": 111, "fgf21": 273, "group": "Diabetic"}, {"waist": 111, "fgf21": 214, "group": "Diabetic"}, {"waist": 112, "fgf21": 708, "group": "Diabetic"}, {"waist": 112, "fgf21": 675, "group": "Diabetic"}, {"waist": 112, "fgf21": 670, "group": "Diabetic"}, {"waist": 112, "fgf21": 598, "group": "Diabetic"}, {"waist": 112, "fgf21": 590, "group": "Diabetic"}, {"waist": 112, "fgf21": 551, "group": "Diabetic"}, {"waist": 112, "fgf21": 446, "group": "Diabetic"}, {"waist": 112, "fgf21": 300, "group": "Diabetic"}, {"waist": 113, "fgf21": 736, "group": "Diabetic"}, {"waist": 113, "fgf21": 700, "group": "Diabetic"}, {"waist": 113, "fgf21": 609, "group": "Diabetic"}, {"waist": 113, "fgf21": 579, "group": "Diabetic"}, {"waist": 113, "fgf21": 455, "group": "Diabetic"}, {"waist": 113, "fgf21": 313, "group": "Diabetic"}, {"waist": 114, "fgf21": 703, "group": "Diabetic"}, {"waist": 115, "fgf21": 802, "group": "Diabetic"}, {"waist": 115, "fgf21": 611, "group": "Diabetic"}, {"waist": 115, "fgf21": 551, "group": "Diabetic"}, {"waist": 115, "fgf21": 289, "group": "Diabetic"}, {"waist": 116, "fgf21": 703, "group": "Diabetic"}, {"waist": 116, "fgf21": 474, "group": "Diabetic"}, {"waist": 116, "fgf21": 328, "group": "Diabetic"}, {"waist": 117.8, "fgf21": 681, "group": "Diabetic"}, {"waist": 117, "fgf21": 565, "group": "Diabetic"}, {"waist": 117, "fgf21": 308, "group": "Diabetic"}, {"waist": 118, "fgf21": 510, "group": "Diabetic"}, {"waist": 120, "fgf21": 530, "group": "Diabetic"}, {"waist": 125, "fgf21": 810, "group": "Diabetic"}, {"waist": 126, "fgf21": 351, "group": "Diabetic"}
    ]
  },
  "vconcat": [
    {
      "hconcat": [
        {
          "width": 328, "height": 239,
          "title": {"text": "(a)", "dx": -29, "offset": 11},
          "encoding": {
            "x": {"field": "bmi", "type": "quantitative", "scale": {"domain": [19.43, 41.62], "nice": false, "zero": false}, "axis": {"title": "Body mass index", "values": [20, 25, 30, 35, 40]}},
            "y": {"field": "fgf21", "type": "quantitative", "scale": {"domain": [-25, 832], "nice": false, "zero": false}, "axis": {"title": "Mean FGF-21 levels (pg/ml)", "values": [0, 200, 400, 600, 800]}}
          },
          "layer": [
            {"data": {"name": "a"}, "mark": {"type": "point", "filled": true, "size": 28, "opacity": 1},
             "encoding": {"color": {"field": "group", "type": "nominal", "scale": {"domain": ["Non-diabetic", "Diabetic"], "range": ["#174f7f", "#a11d4a"]}, "legend": {"legendX": -2.3, "legendY": 290}}}},
            {"data": {"values": [{"bmi": 22, "fgf21": 224}, {"bmi": 41, "fgf21": 513}]}, "mark": {"type": "line", "color": "#5a9e2c", "strokeWidth": 1.2}},
            {"data": {"values": [{"bmi": 20.09, "fgf21": 730}]}, "mark": {"type": "text", "text": "R", "fontStyle": "italic", "align": "left", "baseline": "alphabetic", "fontSize": 13, "color": "#231f20"}},
            {"data": {"values": [{"bmi": 20.09, "fgf21": 730}]}, "mark": {"type": "text", "text": "² = 0.36", "dx": 8.5, "align": "left", "baseline": "alphabetic", "fontSize": 13, "color": "#231f20"}}
          ]
        },
        {
          "width": 327, "height": 245,
          "title": {"text": "(b)", "dx": -25, "offset": 12},
          "encoding": {
            "x": {"field": "fat", "type": "quantitative", "scale": {"domain": [-1.7, 65.3], "nice": false, "zero": false}, "axis": {"title": "Fat mass (%)", "values": [0, 20, 40, 60]}},
            "y": {"field": "fgf21", "type": "quantitative", "scale": {"domain": [-23, 831], "nice": false, "zero": false}, "axis": {"title": "Mean FGF-21 levels (pg/ml)", "values": [0, 200, 400, 600, 800]}}
          },
          "layer": [
            {"data": {"name": "b"}, "mark": {"type": "point", "filled": true, "size": 28, "opacity": 1},
             "encoding": {"color": {"field": "group", "type": "nominal", "scale": {"domain": ["Non-diabetic", "Diabetic"], "range": ["#174f7f", "#a11d4a"]}, "legend": {"legendX": -2.3, "legendY": 289}}}},
            {"data": {"values": [{"fat": 18.0, "fgf21": 58}, {"fat": 45.05, "fgf21": 752}]}, "mark": {"type": "line", "color": "#5a9e2c", "strokeWidth": 1.2}},
            {"data": {"values": [{"fat": 1.84, "fgf21": 752}]}, "mark": {"type": "text", "text": "R", "fontStyle": "italic", "align": "left", "baseline": "alphabetic", "fontSize": 13, "color": "#231f20"}},
            {"data": {"values": [{"fat": 1.84, "fgf21": 752}]}, "mark": {"type": "text", "text": "² = 0.592", "dx": 8.5, "align": "left", "baseline": "alphabetic", "fontSize": 13, "color": "#231f20"}}
          ]
        }
      ],
      "spacing": 64.3,
      "bounds": "flush",
      "resolve": {"scale": {"color": "independent"}, "legend": {"color": "independent"}}
    },
    {
      "width": 326, "height": 259,
      "title": {"text": "(c)", "dx": -25, "offset": 13.5},
      "encoding": {
        "x": {"field": "waist", "type": "quantitative", "scale": {"domain": [76.55, 131], "nice": false, "zero": false}, "axis": {"title": "Waistcirc", "values": [80, 90, 100, 110, 120, 130], "labelFontSize": 13, "titleFontSize": 14}},
        "y": {"field": "fgf21", "type": "quantitative", "scale": {"domain": [-25.5, 832], "nice": false, "zero": false}, "axis": {"title": "Mean FGF-21 levels (pg/ml)", "values": [0, 200, 400, 600, 800], "labelFontSize": 12.5, "titleFontSize": 13.5}}
      },
      "layer": [
        {"data": {"name": "c"}, "mark": {"type": "point", "filled": true, "size": 30, "opacity": 1},
         "encoding": {"color": {"field": "group", "type": "nominal", "scale": {"domain": ["Nondiabetic", "Diabetic"], "range": ["#174f7f", "#a11d4a"]}, "legend": {"legendX": -2.5, "legendY": 310, "labelFontSize": 13.5}}}},
        {"data": {"values": [{"waist": 78, "fgf21": 101}, {"waist": 126, "fgf21": 568}]}, "mark": {"type": "line", "color": "#5a9e2c", "strokeWidth": 1.2}},
        {"data": {"values": [{"waist": 79.45, "fgf21": 749}]}, "mark": {"type": "text", "text": "R", "fontStyle": "italic", "align": "left", "baseline": "alphabetic", "fontSize": 14, "color": "#231f20"}},
        {"data": {"values": [{"waist": 79.45, "fgf21": 749}]}, "mark": {"type": "text", "text": "² = 0.420", "dx": 9, "align": "left", "baseline": "alphabetic", "fontSize": 14, "color": "#231f20"}}
      ]
    }
  ],
  "spacing": 9,
  "bounds": "full",
  "center": true,
  "resolve": {"scale": {"color": "independent"}, "legend": {"color": "independent"}}
}
